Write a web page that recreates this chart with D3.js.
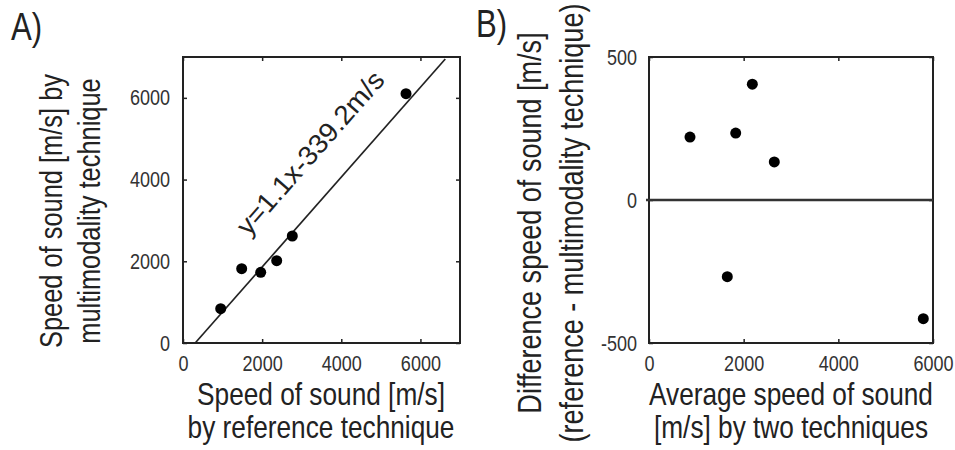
<!DOCTYPE html>
<html>
<head>
<meta charset="utf-8">
<script src="https://cdn.jsdelivr.net/npm/d3@7"></script>
<style>
  body { margin: 0; background: #fff; }
  text { font-family: "Liberation Sans", Arial, sans-serif; fill: #222; }
</style>
</head>
<body>
<svg id="chart" width="955" height="450"></svg>
<script>
// panel A - speed of sound, reference vs multimodality
const refSpeed   = [953, 1483, 1964, 2368, 2762, 5636];
const multiSpeed = [839, 1818, 1730, 2014, 2619, 6101];
const fitSlope = 1.1;
const fitIntercept = -339.2;
const fitRange = [308, 6628];
const fitLabel = "y=1.1x-339.2m/s";
const xTicksA = [0, 2000, 4000, 6000];
const yTicksA = [0, 2000, 4000, 6000];

// panel B - difference vs average (two techniques)
const avgSpeed  = [866, 2183, 1832, 2647, 1654, 5795];
const diffSpeed = [220, 405, 234, 133, -268, -415];
const xTicksB = [0, 2000, 4000, 6000];
const yTicksB = [-500, 0, 500];

// the figure uses a narrow sans; squeeze Liberation Sans to match
const NARROW = 0.82;

const svg = d3.select("#chart");

const xA = d3.scaleLinear().domain([0, 7000]).range([183, 460]);
const yA = d3.scaleLinear().domain([0, 7000]).range([343, 57]);
const xB = d3.scaleLinear().domain([0, 6000]).range([649, 933]);
const yB = d3.scaleLinear().domain([-500, 500]).range([343, 57]);

const fmt = d => String(d);

const addAxes = (x, y, xt, yt, padX, padY) => {
    const [x0, x1] = x.range();
    const [y0, y1] = y.range();

    const bottom = svg.append("g").attr("transform", `translate(0,${y0})`)
        .call(d3.axisBottom(x).tickValues(xt).tickSize(-4).tickSizeOuter(0).tickPadding(padX).tickFormat(fmt));
    const top = svg.append("g").attr("transform", `translate(0,${y1})`)
        .call(d3.axisTop(x).tickValues(xt).tickSize(-4).tickSizeOuter(0).tickFormat(""));
    const left = svg.append("g").attr("transform", `translate(${x0},0)`)
        .call(d3.axisLeft(y).tickValues(yt).tickSize(-4).tickSizeOuter(0).tickPadding(padY).tickFormat(fmt));
    const right = svg.append("g").attr("transform", `translate(${x1},0)`)
        .call(d3.axisRight(y).tickValues(yt).tickSize(-4).tickSizeOuter(0).tickFormat(""));

    [bottom, top, left, right].forEach(g => {
        g.style("color", "#222");
        g.select(".domain").remove();
        g.selectAll("line").attr("stroke-width", 1.5);
        g.selectAll("text").style("font-size", "22px").style("fill", "#333")
            .attr("transform", `scale(${NARROW},1)`);
    });
    left.selectAll("text").attr("x", -padY / NARROW);

    svg.append("rect")
        .attr("x", x0).attr("y", y1)
        .attr("width", x1 - x0).attr("height", y0 - y1)
        .attr("fill", "none")
        .attr("stroke", "#222")
        .attr("stroke-width", 2);
};

const addDots = (x, y, xs, ys) => {
    svg.append("g").selectAll("circle")
        .data(xs)
        .enter()
        .append("circle")
        .attr("cx", (d) => x(d))
        .attr("cy", (d, i) => y(ys[i]))
        .attr("r", 5.5)
        .attr("fill", "#000");
};

// multi-line label, lines stacked along the text's own y direction
const addLabel = (lines, x, y, rot, size, gap) => {
    const t = svg.append("text")
        .attr("transform", `translate(${x},${y}) rotate(${rot}) scale(${NARROW},1)`)
        .attr("text-anchor", "middle")
        .style("font-size", size + "px");
    lines.forEach((s, i) => {
        t.append("tspan").attr("x", 0).attr("y", i * gap).text(s);
    });
    return t;
};

// ---- panel A
addAxes(xA, yA, xTicksA, yTicksA, 12, 13);

const fitPts = fitRange.map(v => [v, fitSlope * v + fitIntercept]);
svg.append("path")
    .attr("d", d3.line().x(d => xA(d[0])).y(d => yA(d[1]))(fitPts))
    .attr("fill", "none")
    .attr("stroke", "#222")
    .attr("stroke-width", 1.7);

addDots(xA, yA, refSpeed, multiSpeed);

// equation text, running along the fit line
{
    const dx = xA(fitPts[1][0]) - xA(fitPts[0][0]);
    const dy = yA(fitPts[1][1]) - yA(fitPts[0][1]);
    const len = Math.hypot(dx, dy);
    const ang = Math.atan2(dy, dx) * 180 / Math.PI;
    const at = 3960;
    const off = 30;
    const px = xA(at) + off * dy / len;
    const py = yA(fitSlope * at + fitIntercept) - off * dx / len;
    svg.append("text")
        .attr("transform", `translate(${px},${py}) rotate(${ang})`)
        .attr("text-anchor", "middle")
        .style("font-size", "27px")
        .attr("textLength", 208)
        .attr("lengthAdjust", "spacingAndGlyphs")
        .text(fitLabel);
}

addLabel(["Speed of sound [m/s] by", "multimodality technique"], 62, 211, -90, 31, 38);
addLabel(["Speed of sound [m/s]", "by reference technique"], 321, 405, 0, 32, 33);

// ---- panel B
addAxes(xB, yB, xTicksB, yTicksB, 12, 12);

svg.append("line")
    .attr("x1", xB(0) - 3).attr("x2", xB(6000))
    .attr("y1", yB(0)).attr("y2", yB(0))
    .attr("stroke", "#333")
    .attr("stroke-width", 2.5);

addDots(xB, yB, avgSpeed, diffSpeed);

addLabel(["Difference speed of sound [m/s]", "(reference - multimodality technique)"], 541, 223, -90, 33, 42);
addLabel(["Average speed of sound", "[m/s] by two techniques"], 791, 405, 0, 32, 33);

// panel letters
svg.append("text").attr("transform", `translate(11,40) scale(${NARROW},1)`).style("font-size", "38px").text("A)");
svg.append("text").attr("transform", `translate(476,37) scale(${NARROW},1)`).style("font-size", "38px").text("B)");
</script>
</body>
</html>
